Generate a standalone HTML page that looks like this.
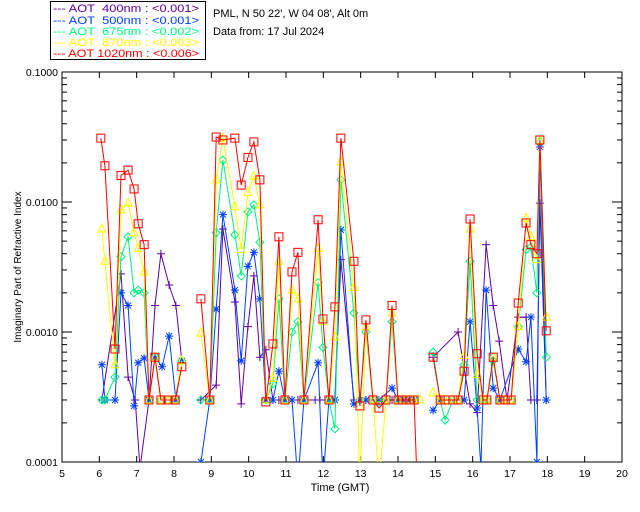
<!DOCTYPE html>
<html><head><meta charset="utf-8"><style>
body{margin:0;background:#fff;}
svg{display:block;font-family:"Liberation Sans",sans-serif;}
</style></head><body>
<svg id="chart" width="640" height="512" viewBox="0 0 640 512" xmlns="http://www.w3.org/2000/svg">
<defs><clipPath id="clip"><rect x="62" y="72" width="560" height="390"/></clipPath></defs>
<g>
<rect x="50.5" y="1.5" width="155" height="58" fill="#fff" stroke="#000"/>
<g font-size="11">
<text x="53" y="12" fill="#6000a0" textLength="146" lengthAdjust="spacingAndGlyphs">--- AOT&#160;&#160;400nm : &lt;0.001&gt;</text>
<text x="53" y="24" fill="#0040ff" textLength="146" lengthAdjust="spacingAndGlyphs">--- AOT&#160;&#160;500nm : &lt;0.001&gt;</text>
<text x="53" y="35" fill="#00ff80" textLength="146" lengthAdjust="spacingAndGlyphs">--- AOT&#160;&#160;675nm : &lt;0.002&gt;</text>
<text x="53" y="46" fill="#ffff00" textLength="146" lengthAdjust="spacingAndGlyphs">--- AOT&#160;&#160;870nm : &lt;0.003&gt;</text>
<text x="53" y="57" fill="#ff0000" textLength="146" lengthAdjust="spacingAndGlyphs">--- AOT 1020nm : &lt;0.006&gt;</text>
</g></g>
<text x="213" y="17" font-size="11">PML, N 50 22', W 04 08', Alt 0m</text>
<text x="213" y="35" font-size="11">Data from: 17 Jul 2024</text>
<rect x="62" y="72" width="560" height="390" fill="none" stroke="#000"/>
<g id="axes" font-size="10.5"></g>
<text x="340" y="491" font-size="11" text-anchor="middle">Time (GMT)</text>
<text transform="translate(21,267) rotate(-90)" font-size="10" text-anchor="middle">Imaginary Part of Refractive Index</text>
<g id="series" clip-path="url(#clip)"></g>
</svg>
<script>
const xTicks=[5,6,7,8,9,10,11,12,13,14,15,16,17,18,19,20];
const yTicks=[0.1,0.01,0.001,0.0001];
const yTickLabels=["0.1000","0.0100","0.0010","0.0001"];

const t400=[6.07,6.58,6.77,6.96,7.09,7.33,7.49,7.65,7.87,8.05,8.21,null,8.72,9.13,9.31,9.63,9.80,9.98,10.14,10.30,10.46,10.65,10.81,10.97,11.16,11.32,11.78,11.91,12.15,12.31,12.47,12.82,12.98,13.14,13.33,13.49,13.68,13.84,14.00,14.13,14.30,14.43,null,14.94,15.61,15.93,16.12,16.36,16.55,16.71,16.92,17.22,17.43,17.56,17.72,17.80,17.97];
const v400=[0.0003,0.0028,0.00045,0.0003,0.00009,0.0003,0.0016,0.004,0.0023,0.0016,0.0006,null,0.0003,0.00039,0.0062,0.0017,0.00028,0.0011,0.0027,0.00064,0.00073,0.0003,0.0003,0.0003,0.0003,0.0003,0.0003,0.0003,0.0003,0.0003,0.0036,0.0003,0.0003,0.0003,0.0003,0.0003,0.0003,0.0003,0.0003,0.0003,0.0003,0.0003,null,0.00064,0.001,0.00028,0.00024,0.0047,0.0016,0.00085,0.0003,0.0013,0.0013,0.0003,0.0003,0.0098,0.0003];

const t500=[6.07,6.15,6.42,6.58,6.77,6.93,7.04,7.20,7.33,7.49,7.68,7.87,8.05,8.21,null,8.72,8.96,9.13,9.31,9.63,9.80,9.98,10.14,10.30,10.46,10.65,10.81,10.97,11.16,11.32,11.48,11.86,11.99,12.15,12.31,12.47,12.82,12.98,13.14,13.49,13.84,14.00,14.13,14.30,14.43,null,14.94,15.13,15.77,15.93,16.12,16.22,16.36,16.55,16.73,17.22,17.43,17.56,17.72,17.80,17.97];
const v500=[0.00056,0.0003,0.0003,0.002,0.0016,0.00027,0.00058,0.00063,0.0003,0.00064,0.00054,0.00093,0.0003,0.0006,null,0.0001,0.0003,0.0015,0.008,0.0021,0.0006,0.0032,0.0041,0.0018,0.0003,0.0003,0.0005,0.0003,0.0003,0.00007,0.0003,0.00058,0.00007,0.0003,0.0003,0.0061,0.00028,0.0003,0.0003,0.0003,0.00037,0.0003,0.0003,0.0003,0.0003,null,0.00025,0.0003,0.0003,0.0012,0.00026,0.00009,0.0021,0.00037,0.0003,0.00074,0.00059,0.0013,0.0001,0.0265,0.0003];

const t675=[6.07,6.15,6.42,6.58,6.77,6.93,7.04,7.20,7.33,7.49,7.65,7.84,8.03,8.21,null,8.72,8.96,9.13,9.31,9.63,9.80,9.98,10.14,10.30,10.46,10.65,10.81,10.97,11.16,11.32,11.48,11.86,11.99,12.15,12.31,12.47,12.82,12.98,13.14,13.33,13.49,13.68,13.84,14.00,14.13,14.30,14.43,null,14.94,15.13,15.26,15.47,15.61,15.77,15.93,16.12,16.28,16.38,16.55,16.73,16.87,17.03,17.22,17.43,17.56,17.72,17.80,17.97];
const v675=[0.0003,0.0003,0.00045,0.0038,0.0054,0.002,0.0021,0.002,0.0003,0.00064,0.0003,0.0003,0.0003,0.0006,null,0.0003,0.0003,0.0058,0.021,0.0056,0.0027,0.0084,0.0095,0.0049,0.0003,0.0004,0.0018,0.0003,0.001,0.0012,0.0003,0.0024,0.00076,0.0003,0.00018,0.0148,0.0014,0.0003,0.001,0.0003,0.00029,0.0003,0.0012,0.0003,0.0003,0.0003,0.0003,null,0.0007,0.0003,0.00021,0.0003,0.0003,0.00056,0.0035,0.0003,0.0003,0.0003,0.0006,0.0003,0.0003,0.0003,0.0011,0.0043,0.0045,0.002,0.029,0.00064];

const t870=[6.07,6.15,6.42,6.58,6.77,6.93,7.04,7.20,7.33,7.49,7.65,7.84,8.03,8.21,null,8.72,8.96,9.13,9.31,9.63,9.80,9.98,10.14,10.30,10.46,10.65,10.81,10.97,11.16,11.32,11.48,11.86,11.99,12.15,12.31,12.47,12.82,12.98,13.14,13.33,13.49,13.68,13.84,14.00,14.13,14.30,14.43,14.59,null,14.94,15.13,15.26,15.47,15.61,15.77,15.93,16.12,16.28,16.38,16.55,16.73,16.87,17.03,17.22,17.43,17.56,17.72,17.80,17.97];
const v870=[0.0062,0.0035,0.00056,0.0087,0.0098,0.0058,0.0044,0.0029,0.0003,0.00064,0.0003,0.0003,0.0003,0.0006,null,0.00098,0.0003,0.0148,0.031,0.0092,0.0043,0.0118,0.0158,0.0095,0.0003,0.00044,0.0035,0.0003,0.0021,0.0018,0.0003,0.0044,0.0012,0.0003,0.00092,0.0203,0.0022,0.00007,0.0011,0.0003,0.00007,0.0003,0.0014,0.0003,0.0003,0.0003,0.0003,0.0003,null,0.00034,0.0003,0.0003,0.0003,0.0003,0.00066,0.0062,0.00047,0.0003,0.0003,0.00064,0.0003,0.0003,0.0003,0.0011,0.0075,0.0054,0.0036,0.03,0.0013];

const t1020=[6.04,6.15,6.42,6.58,6.77,6.93,7.04,7.20,7.33,7.49,7.65,7.84,8.03,8.21,null,8.72,8.96,9.13,9.31,9.63,9.80,9.98,10.14,10.30,10.46,10.65,10.81,10.97,11.16,11.32,11.48,11.86,11.99,12.15,12.31,12.47,12.82,12.98,13.14,13.33,13.49,13.68,13.84,14.00,14.13,14.30,14.43,14.54,null,14.94,15.13,15.26,15.47,15.61,15.77,15.93,16.12,16.28,16.38,16.55,16.73,16.87,17.03,17.22,17.43,17.56,17.72,17.80,17.97];
const v1020=[0.031,0.019,0.00074,0.016,0.0176,0.0126,0.0068,0.0047,0.0003,0.00064,0.0003,0.0003,0.0003,0.00054,null,0.0018,0.0003,0.0316,0.03,0.031,0.0135,0.022,0.029,0.0148,0.00029,0.00081,0.0054,0.0003,0.0029,0.0041,0.0003,0.0073,0.00126,0.0003,0.00156,0.031,0.0035,0.00027,0.00124,0.0003,0.00026,0.0003,0.0016,0.0003,0.0003,0.0003,0.0003,0.00004,null,0.00064,0.0003,0.0003,0.0003,0.0003,0.0005,0.0074,0.00068,0.0003,0.0003,0.00064,0.0003,0.0003,0.0003,0.00167,0.0069,0.0047,0.004,0.03,0.00102];

const X0=62,X1=622,Y0=72,Y1=462;
function xs(t){return X0+(t-5)/(20-5)*(X1-X0);}
function ys(v){return Y0+(-1-Math.log10(v))/3*(Y1-Y0);}
const NS="http://www.w3.org/2000/svg";
function mk(tag,attrs,parent){const e=document.createElementNS(NS,tag);for(const k in attrs)e.setAttribute(k,attrs[k]);parent.appendChild(e);return e;}
const axes=document.getElementById('axes');
xTicks.forEach(function(t){
  const x=xs(t);
  const l=mk('line',{x1:x,x2:x,y1:Y1,y2:Y1-6,stroke:'#000'},axes);
  
  
  const l2=mk('line',{x1:x,x2:x,y1:Y0,y2:Y0+6,stroke:'#000'},axes);
  
  
  const tx=mk('text',{x:x,y:Y1+15,'text-anchor':'middle'},axes);
  tx.textContent=String(t);
  
  
});
yTicks.forEach(function(v,i){
  const y=ys(v);
  const l=mk('line',{x1:X0,x2:X0+10,y1:y,y2:y,stroke:'#000'},axes);
  
  
  const r=mk('line',{x1:X1,x2:X1-10,y1:y,y2:y,stroke:'#000'},axes);
  
  
  const tx=mk('text',{x:X0-4,y:y+4,'text-anchor':'end'},axes);
  tx.textContent=yTickLabels[i];
  
  
  if(i<yTicks.length-1){for(let m=2;m<10;m++){const yy=ys(v/10*m);
    const a=mk('line',{x1:X0,x2:X0+5,y1:yy,y2:yy,stroke:'#000'},axes);
    
    
    const b=mk('line',{x1:X1,x2:X1-5,y1:yy,y2:yy,stroke:'#000'},axes);
    
    }}
});
const sg=document.getElementById('series');
function sym(g,type,x,y,c){
  let e;
  if(type==='plus'){e=mk('path',{d:`M${x-4} ${y}H${x+4}M${x} ${y-4}V${y+4}`,stroke:c,fill:'none'},g);}
  else if(type==='star'){e=mk('path',{d:`M${x-4} ${y}H${x+4}M${x} ${y-4}V${y+4}M${x-3} ${y-3}L${x+3} ${y+3}M${x-3} ${y+3}L${x+3} ${y-3}`,stroke:c,fill:'none'},g);}
  else if(type==='diamond'){e=mk('path',{d:`M${x} ${y-4}L${x+4} ${y}L${x} ${y+4}L${x-4} ${y}Z`,stroke:c,fill:'none'},g);}
  else if(type==='tri'){e=mk('path',{d:`M${x} ${y-5}L${x+4} ${y+3}L${x-4} ${y+3}Z`,stroke:c,fill:'none'},g);}
  else {e=mk('rect',{x:x-4,y:y-4,width:8,height:8,stroke:c,fill:'none'},g);}
  
  
}
function series(name,ts,vs,color,type){
  const g=mk('g',{},sg);
  
  
  let d='',pen=false;
  for(let i=0;i<ts.length;i++){
    if(ts[i]===null||vs[i]===null){pen=false;continue;}
    d+=(pen?'L':'M')+xs(ts[i]).toFixed(1)+' '+ys(vs[i]).toFixed(1);pen=true;
  }
  const p=mk('path',{d:d,stroke:color,fill:'none','stroke-width':1},g);
  
  
  for(let i=0;i<ts.length;i++){if(ts[i]===null||vs[i]===null)continue;sym(g,type,xs(ts[i]),ys(vs[i]),color);}
}
series('series-400nm',t400,v400,'#6000a0','plus');
series('series-500nm',t500,v500,'#0040ff','star');
series('series-675nm',t675,v675,'#00f080','diamond');
series('series-870nm',t870,v870,'#ffff00','tri');
series('series-1020nm',t1020,v1020,'#ff0000','square');
</script>
</body></html>
